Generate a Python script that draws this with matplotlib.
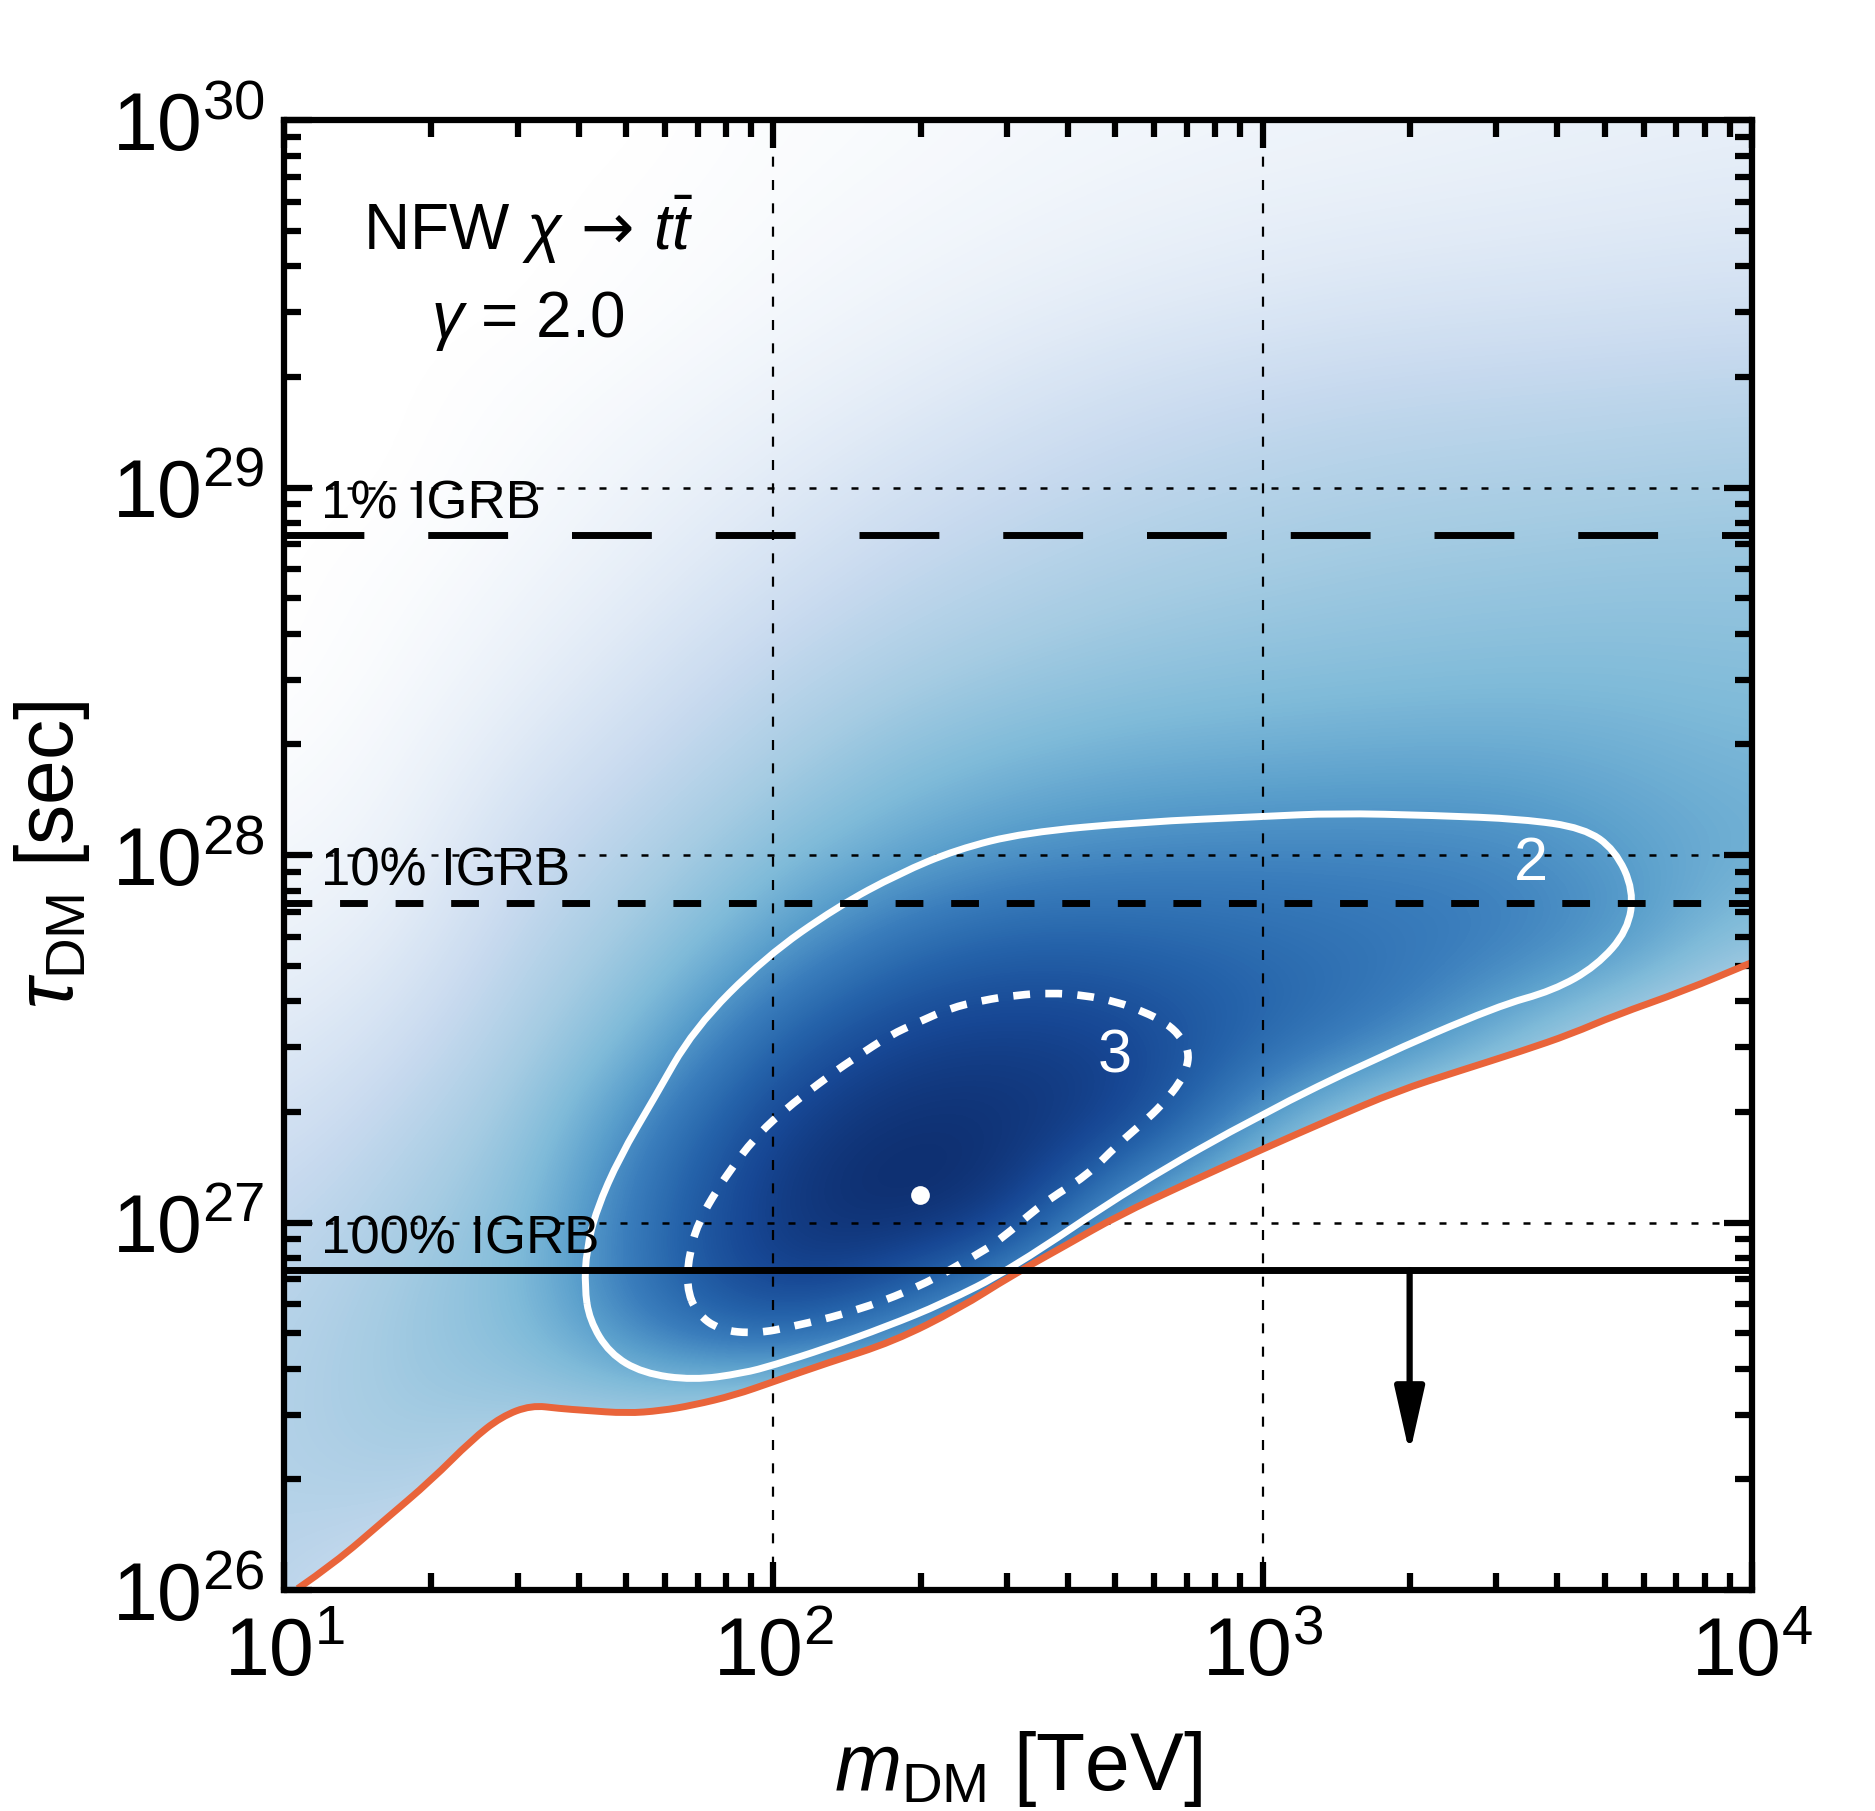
import numpy as np
import matplotlib
matplotlib.use('Agg')
import matplotlib.pyplot as plt
from matplotlib.colors import LinearSegmentedColormap
from matplotlib.path import Path
from matplotlib.patches import PathPatch
from matplotlib.ticker import LogLocator, NullFormatter

plt.rcParams['font.family'] = ['Liberation Sans', 'DejaVu Sans']
plt.rcParams['mathtext.fontset'] = 'custom'
plt.rcParams['mathtext.rm'] = 'Liberation Sans'
plt.rcParams['mathtext.it'] = 'Liberation Sans:italic'
plt.rcParams['mathtext.bf'] = 'Liberation Sans:bold'
plt.rcParams['mathtext.sf'] = 'DejaVu Sans'

# everything below is log10(m_DM / TeV) and log10(tau_DM / s)

# lower limit curve (orange)
lim_logm = [1.028, 1.103, 1.205, 1.301, 1.383, 1.444, 1.505, 1.563, 1.614, 1.700,
            1.770, 1.836, 1.920, 2.000, 2.108, 2.245, 2.381, 2.483, 2.600, 2.703,
            2.850, 3.000, 3.140, 3.275, 3.400, 3.530, 3.630, 3.720, 3.860, 4.000]
lim_logtau = [26.004, 26.073, 26.190, 26.299, 26.408, 26.472, 26.503, 26.494, 26.489, 26.481,
              26.488, 26.503, 26.530, 26.567, 26.617, 26.676, 26.767, 26.853, 26.940, 27.018,
              27.110, 27.200, 27.282, 27.358, 27.412, 27.467, 27.513, 27.564, 27.630, 27.708]

# 2 sigma contour (solid white), closed
c2_logm = [1.614, 1.618, 1.638, 1.686, 1.754, 1.837, 1.983, 2.130, 2.257, 2.374,
           2.512, 2.750, 3.000, 3.147, 3.350, 3.530, 3.656, 3.720, 3.758, 3.746,
           3.682, 3.593, 3.479, 3.224, 3.000, 2.741, 2.483, 2.347, 2.231, 2.108,
           2.000, 1.938, 1.836, 1.733, 1.665, 1.624]
c2_logtau = [26.825, 26.925, 27.034, 27.179, 27.333, 27.527, 27.722, 27.859, 27.950, 28.015,
             28.061, 28.090, 28.105, 28.114, 28.108, 28.098, 28.074, 28.014, 27.904, 27.795,
             27.698, 27.631, 27.589, 27.443, 27.297, 27.103, 26.871, 26.780, 26.717, 26.658,
             26.612, 26.590, 26.571, 26.590, 26.644, 26.735]

# 3 sigma contour (dashed white), closed
c3_logm = [1.822, 1.829, 1.849, 1.884, 1.917, 1.958, 2.013, 2.120, 2.170, 2.238,
           2.299, 2.360, 2.428, 2.497, 2.565, 2.633, 2.701, 2.756, 2.800, 2.830,
           2.849, 2.845, 2.830, 2.800, 2.767, 2.703, 2.640, 2.551, 2.463, 2.415,
           2.299, 2.163, 2.040, 1.965, 1.890, 1.843]
c3_logtau = [26.825, 26.925, 27.007, 27.088, 27.152, 27.224, 27.297, 27.406, 27.451, 27.510,
             27.547, 27.583, 27.605, 27.619, 27.625, 27.619, 27.601, 27.574, 27.545, 27.510,
             27.467, 27.420, 27.380, 27.330, 27.285, 27.212, 27.127, 27.054, 26.952, 26.912,
             26.825, 26.757, 26.717, 26.698, 26.707, 26.753]

best_logm = 2.30
best_logtau = 27.075

igrb_labels = ['1% IGRB', '10% IGRB', '100% IGRB']
igrb_logtau = [28.87, 27.87, 26.87]
igrb_dashes = [(0, (11.5, 9.2)), (0, (4.0, 4.0)), '-']

arrow_logm = 3.30
arrow_logtau = [26.87, 26.37]

# likelihood shading (rows: tau, cols: mass)
grid_logm = [1.00, 1.25, 1.50, 1.75, 2.00, 2.25, 2.50, 2.75, 3.00, 3.25, 3.50, 3.75, 4.00]
grid_logtau = [26.00, 26.25, 26.50, 26.75, 27.00, 27.25, 27.50, 27.75, 28.00,
               28.25, 28.50, 28.75, 29.00, 29.25, 29.50, 29.75, 30.00]
ts_map = [
    [0.30, 0.18, 0.12, 0.10, 0.10, 0.10, 0.10, 0.10, 0.10, 0.10, 0.10, 0.10, 0.10],
    [0.32, 0.34, 0.22, 0.15, 0.12, 0.10, 0.10, 0.10, 0.10, 0.10, 0.10, 0.10, 0.10],
    [0.32, 0.40, 0.40, 0.42, 0.35, 0.25, 0.18, 0.14, 0.12, 0.10, 0.10, 0.10, 0.10],
    [0.30, 0.40, 0.48, 0.74, 0.90, 0.76, 0.45, 0.28, 0.20, 0.16, 0.14, 0.12, 0.10],
    [0.26, 0.36, 0.47, 0.75, 0.95, 1.00, 0.94, 0.45, 0.30, 0.22, 0.18, 0.14, 0.12],
    [0.20, 0.30, 0.42, 0.68, 0.91, 0.98, 0.97, 0.90, 0.55, 0.30, 0.24, 0.18, 0.14],
    [0.14, 0.22, 0.36, 0.52, 0.78, 0.90, 0.92, 0.89, 0.78, 0.70, 0.50, 0.30, 0.20],
    [0.09, 0.15, 0.30, 0.42, 0.58, 0.74, 0.80, 0.78, 0.75, 0.72, 0.69, 0.62, 0.42],
    [0.05, 0.10, 0.24, 0.34, 0.46, 0.55, 0.62, 0.65, 0.66, 0.66, 0.65, 0.58, 0.53],
    [0.02, 0.07, 0.17, 0.26, 0.36, 0.45, 0.50, 0.53, 0.54, 0.55, 0.55, 0.53, 0.50],
    [0.00, 0.04, 0.11, 0.19, 0.28, 0.35, 0.40, 0.43, 0.45, 0.46, 0.47, 0.47, 0.46],
    [0.00, 0.02, 0.07, 0.13, 0.20, 0.27, 0.32, 0.36, 0.38, 0.40, 0.41, 0.42, 0.42],
    [0.00, 0.00, 0.04, 0.09, 0.14, 0.20, 0.25, 0.29, 0.32, 0.34, 0.35, 0.36, 0.37],
    [0.00, 0.00, 0.02, 0.05, 0.09, 0.13, 0.18, 0.22, 0.25, 0.27, 0.28, 0.29, 0.30],
    [0.00, 0.00, 0.00, 0.02, 0.05, 0.08, 0.11, 0.14, 0.16, 0.18, 0.19, 0.20, 0.21],
    [0.00, 0.00, 0.00, 0.01, 0.03, 0.05, 0.07, 0.09, 0.11, 0.12, 0.13, 0.14, 0.15],
    [0.00, 0.00, 0.00, 0.00, 0.02, 0.03, 0.05, 0.06, 0.07, 0.08, 0.09, 0.10, 0.11],
]

cmap = LinearSegmentedColormap.from_list('ts', [
    (0.00, '#ffffff'), (0.12, '#e6eef8'), (0.25, '#c8daef'), (0.37, '#a6cce3'),
    (0.48, '#80bbd9'), (0.58, '#5a9fcc'), (0.68, '#3a7dbc'), (0.78, '#2563aa'),
    (0.88, '#174794'), (1.00, '#0c2866')])

ORANGE = '#e9643a'


def tev(v):
    return 10 ** np.asarray(v, dtype=float)


def smooth_path(lx, ly, closed=False):
    # quadratic bezier through midpoints, read points act as control points
    lx = np.asarray(lx, dtype=float)
    ly = np.asarray(ly, dtype=float)
    n = len(lx)
    verts, codes = [], []
    if closed:
        mx = (lx + np.roll(lx, -1)) / 2
        my = (ly + np.roll(ly, -1)) / 2
        verts.append((mx[-1], my[-1]))
        codes.append(Path.MOVETO)
        for i in range(n):
            verts += [(lx[i], ly[i]), (mx[i], my[i])]
            codes += [Path.CURVE3, Path.CURVE3]
    else:
        verts.append((lx[0], ly[0]))
        codes.append(Path.MOVETO)
        for i in range(1, n - 1):
            verts += [(lx[i], ly[i]), ((lx[i] + lx[i + 1]) / 2, (ly[i] + ly[i + 1]) / 2)]
            codes += [Path.CURVE3, Path.CURVE3]
        verts.append((lx[-1], ly[-1]))
        codes.append(Path.LINETO)
    verts = tev(np.array(verts))
    return verts, codes


fig = plt.figure(figsize=(18.75, 18.11), dpi=100)
rect = [0.1515, 0.122, 0.783, 0.8117]

# shading lives on a plain axes in log10 units underneath the log axes
bg = fig.add_axes(rect)
hx = (grid_logm[1] - grid_logm[0]) / 2
hy = (grid_logtau[1] - grid_logtau[0]) / 2
bg.imshow(np.array(ts_map), origin='lower', cmap=cmap, vmin=0, vmax=1,
          interpolation='bicubic', aspect='auto',
          extent=[grid_logm[0] - hx, grid_logm[-1] + hx,
                  grid_logtau[0] - hy, grid_logtau[-1] + hy])
bg.set_xlim(1, 4)
bg.set_ylim(26, 30)
bg.axis('off')

ax = fig.add_axes(rect)
ax.set_facecolor('none')
ax.set_xscale('log')
ax.set_yscale('log')
ax.set_xlim(10, 1e4)
ax.set_ylim(1e26, 1e30)

# excluded region below the limit is left blank
lv, lc = smooth_path(lim_logm, lim_logtau)
fill_v = np.vstack([lv, [[tev(lim_logm[-1]), 1e26], [tev(lim_logm[0]), 1e26], lv[0]]])
fill_c = lc + [Path.LINETO, Path.LINETO, Path.CLOSEPOLY]
ax.add_patch(PathPatch(Path(fill_v, fill_c), facecolor='white', lw=0, zorder=1))

for v in [1e2, 1e3]:
    ax.axvline(v, color='k', lw=1.6, ls=(0, (4.5, 6.0)), zorder=2)
for v in [1e27, 1e28, 1e29]:
    ax.axhline(v, color='k', lw=1.8, ls=(0, (2.8, 5.6)), zorder=2)

v2, k2 = smooth_path(c2_logm, c2_logtau, closed=True)
ax.add_patch(PathPatch(Path(v2, k2), fill=False, edgecolor='white', lw=5, zorder=3))
v3, k3 = smooth_path(c3_logm, c3_logtau, closed=True)
ax.add_patch(PathPatch(Path(v3, k3), fill=False, edgecolor='white', lw=5.5,
                       ls=(0, (2.2, 2.0)), capstyle='butt', zorder=3))
ax.plot(tev(best_logm), tev(best_logtau), 'o', color='white', ms=13.5, mec='none', zorder=4)

ax.add_patch(PathPatch(Path(lv, lc), fill=False, edgecolor=ORANGE, lw=5, zorder=4))

ax.text(tev(3.548), tev(27.975), '2', color='white', fontsize=44, ha='center', va='center', zorder=6)
ax.text(tev(2.698), tev(27.450), '3', color='white', fontsize=44, ha='center', va='center', zorder=6)

for lab, lt, ls in zip(igrb_labels, igrb_logtau, igrb_dashes):
    ax.axhline(tev(lt), color='k', lw=5, ls=ls, zorder=5)
    ax.text(tev(1.075), tev(lt + 0.046), lab, fontsize=38, ha='left', va='baseline', zorder=6)

ax.annotate('', xy=(tev(arrow_logm), tev(arrow_logtau[1])),
            xytext=(tev(arrow_logm), tev(arrow_logtau[0])),
            arrowprops=dict(arrowstyle='-|>,head_length=2.0,head_width=0.45', lw=4.5,
                            color='k', mutation_scale=20, shrinkA=0, shrinkB=0),
            zorder=6)

ax.text(tev(1.498), tev(29.646), r'NFW $\chi\,\mathsf{\rightarrow}\,t\bar{t}$', fontsize=46,
        ha='center', va='baseline', zorder=6)
ax.text(tev(1.498), tev(29.410), r'$\gamma$ = 2.0', fontsize=46,
        ha='center', va='baseline', zorder=6)

for a in [ax.xaxis, ax.yaxis]:
    a.set_major_locator(LogLocator(base=10, numticks=12))
    a.set_minor_locator(LogLocator(base=10, subs=np.arange(2, 10), numticks=100))
    a.set_minor_formatter(NullFormatter())

ax.tick_params(which='both', direction='in', top=True, right=True, width=4.5)
ax.tick_params(which='major', length=20, labelsize=58)
ax.tick_params(which='minor', length=12)
ax.tick_params(axis='x', which='major', pad=19)
ax.tick_params(axis='y', which='major', pad=14)
for s in ax.spines.values():
    s.set_linewidth(4.5)
    s.set_zorder(7)

ax.set_xlabel(r'$m_{\mathrm{DM}}$ [TeV]', fontsize=58, labelpad=26)
ax.set_ylabel(r'$\tau_{\mathrm{DM}}$ [sec]', fontsize=58, labelpad=14)

fig.savefig('out.png', dpi=100)
